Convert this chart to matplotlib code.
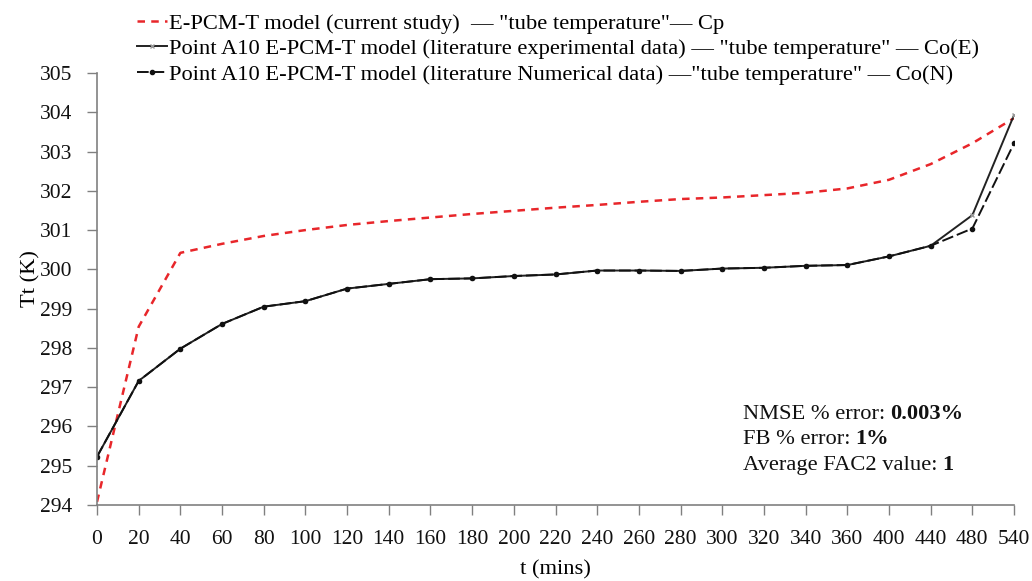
import numpy as np
import matplotlib.pyplot as plt

# time categories (mins) - evenly spaced on the chart
t_labels = ['0', '20', '40', '60', '80', '100', '120', '140', '160', '180', '200',
            '220', '240', '260', '280', '300', '320', '340', '360', '400', '440',
            '480', '540']

# E-PCM-T model (current study) - Cp
tt_cp = [294.08, 298.54, 300.42, 300.65, 300.85, 301.00, 301.13, 301.23, 301.32,
         301.41, 301.49, 301.57, 301.64, 301.72, 301.79, 301.83, 301.89, 301.95,
         302.06, 302.28, 302.68, 303.21, 303.85]

# literature experimental data - Co(E)
tt_exp = [295.23, 297.16, 297.98, 298.61, 299.05, 299.19, 299.51, 299.63, 299.75,
          299.77, 299.83, 299.87, 299.97, 299.97, 299.96, 300.02, 300.04, 300.09,
          300.11, 300.33, 300.60, 301.38, 303.93]

# literature numerical data - Co(N)
tt_num = [295.23, 297.16, 297.98, 298.61, 299.05, 299.19, 299.51, 299.63, 299.75,
          299.77, 299.83, 299.87, 299.97, 299.97, 299.96, 300.02, 300.04, 300.09,
          300.11, 300.33, 300.60, 301.04, 303.21]

plt.rcParams['font.family'] = ['Liberation Serif', 'DejaVu Serif']
FS = 16.2

fig = plt.figure(figsize=(10.32, 5.81), dpi=100)
ax = fig.add_axes([0.094, 0.1308, 0.8886, 0.7436])

x = np.arange(len(t_labels))
ax.plot(x, tt_cp, color='#e8262a', lw=1.8, dashes=(3, 2.5),
        label='E-PCM-T model (current study)  \u2014 "tube temperature"\u2014 Cp')
ax.plot(x, tt_exp, color='#222222', lw=1.4, marker='x', markersize=3.5,
        markeredgecolor='#999999', markeredgewidth=1.0,
        label='Point A10 E-PCM-T model (literature experimental data) \u2014 "tube temperature" \u2014 Co(E)')
ax.plot(x, tt_num, color='#111111', lw=1.4, dashes=(6, 2), marker='o', markersize=3,
        label='Point A10 E-PCM-T model (literature Numerical data) \u2014"tube temperature" \u2014 Co(N)')

ax.set_xlim(0, len(t_labels) - 1)
ax.set_ylim(294, 305)
ax.set_xticks(x)
ax.set_xticklabels(t_labels)
ax.set_yticks(np.arange(294, 306, 1))
ax.set_xlabel('t (mins)', fontsize=FS, labelpad=8)
ax.set_ylabel('Tt (K)', fontsize=FS)
ax.yaxis.set_label_coords(-0.062, 0.525)

for side in ['top', 'right']:
    ax.spines[side].set_visible(False)
for side in ['left', 'bottom']:
    ax.spines[side].set_color('#808080')
    ax.spines[side].set_linewidth(1.2)
ax.tick_params(axis='both', direction='out', length=7, width=1.0, color='#808080',
               labelsize=15.5, labelcolor='#111111')
ax.tick_params(axis='x', pad=11)
ax.tick_params(axis='y', pad=11)

fig.legend(loc='upper left', bbox_to_anchor=(0.133, 0.977), frameon=False,
           fontsize=FS, handlelength=1.3, handletextpad=0.1, labelspacing=0.2,
           borderaxespad=0, borderpad=0)

# error metrics annotation
lines = [('NMSE % error: ', '0.003%'), ('FB % error: ', '1%'), ('Average FAC2 value: ', '1')]
y0 = 0.2
for i, (txt, val) in enumerate(lines):
    t = ax.text(0.704, y0 - i * 0.059, txt, transform=ax.transAxes, fontsize=FS,
                va='baseline', color='#111111')
    ax.annotate(val, xy=(1, 0), xycoords=t, va='bottom', ha='left', fontsize=FS,
                fontweight='bold', color='#111111')

fig.savefig('out.png', dpi=100)
